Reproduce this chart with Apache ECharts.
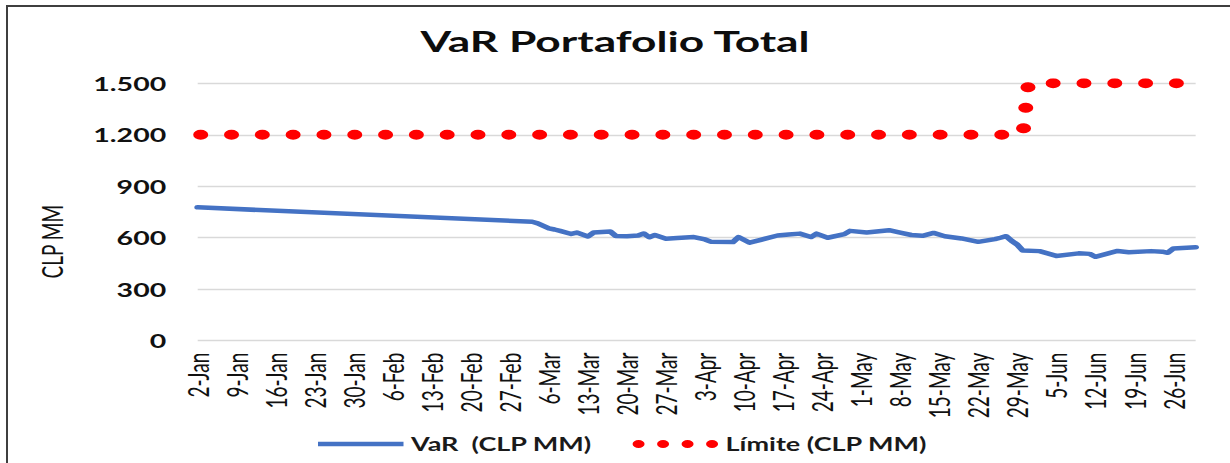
<!DOCTYPE html>
<html><head><meta charset="utf-8">
<script src="https://cdn.jsdelivr.net/npm/echarts@6/dist/echarts.min.js"></script>
<style>
html,body{margin:0;padding:0;background:#fff;overflow:hidden;width:1230px;height:463px;}
#chart{position:absolute;left:0;top:0;width:820px;height:463px;transform:scaleX(1.5);transform-origin:0 0;}
#frame{position:absolute;left:6px;top:5px;width:1240px;height:470px;border-left:2.5px solid #3f3f3f;border-top:2px solid #3f3f3f;pointer-events:none;}
</style></head><body>
<div id="chart"></div><div id="frame"></div>
<script>
const chartTitle = 'VaR Portafolio Total';
const yAxisName = 'CLP MM';
const yMin = 0, yMax = 1500, yStep = 300;
const months = ['Jan','Feb','Mar','Apr','May','Jun'];
const monthDays = [31,28,31,30,31,30];
const firstDay = 2;

const varName = 'VaR  (CLP MM)';
const varDates = ['2-Jan','3-Mar','4-Mar','6-Mar','7-Mar','8-Mar','10-Mar','11-Mar','13-Mar','14-Mar','17-Mar','18-Mar','20-Mar','22-Mar','23-Mar','24-Mar','25-Mar','27-Mar','29-Mar','1-Apr','3-Apr','4-Apr','8-Apr','9-Apr','11-Apr','13-Apr','16-Apr','18-Apr','20-Apr','22-Apr','23-Apr','25-Apr','28-Apr','29-Apr','2-May','6-May','8-May','10-May','12-May','14-May','16-May','19-May','22-May','25-May','26-May','27-May','28-May','29-May','30-May','2-Jun','5-Jun','9-Jun','11-Jun','12-Jun','16-Jun','18-Jun','22-Jun','24-Jun','25-Jun','26-Jun','30-Jun'];
const varValues = [777,693,684,655,648,640,622,630,607,630,636,610,609,613,625,603,616,594,598,604,590,577,575,604,571,588,613,619,624,604,624,600,621,640,631,644,630,616,611,628,609,596,576,592,600,609,582,560,525,522,494,509,506,489,523,516,522,519,512,537,545];

const limitName = 'Límite (CLP MM)';
const limitDates = ['2-Jan','30-May','31-May','30-Jun'];
const limitValues = [1200,1200,1500,1500];

// daily categories 2-Jan .. 30-Jun
const categories = [];
months.forEach((m, i) => {
  for (let d = (i === 0 ? firstDay : 1); d <= monthDays[i]; d++) categories.push(d + '-' + m);
});

const fmt = v => String(v).replace(/\B(?=(\d{3})+(?!\d))/g, '.');
const pairs = (xs, ys) => xs.map((x, i) => [x, ys[i]]);

const lineIcon = 'path://M0,0H57V4.5H0Z';
const dotsIcon = 'path://M0,1a1,1 0 1,0 2,0a1,1 0 1,0 -2,0Z M4.075,1a1,1 0 1,0 2,0a1,1 0 1,0 -2,0Z M8.15,1a1,1 0 1,0 2,0a1,1 0 1,0 -2,0Z M12.225,1a1,1 0 1,0 2,0a1,1 0 1,0 -2,0Z';

const chart = echarts.init(document.getElementById('chart'), null, {renderer: 'svg'});
chart.setOption({
  animation: false,
  backgroundColor: 'transparent',
  title: {
    text: chartTitle, left: 'center', top: 21,
    textStyle: {fontFamily: 'Lato', fontWeight: 'bold', fontSize: 29.5, color: '#0d0d0d'}
  },
  grid: {left: 131.8, right: 22.9, top: 83.3, bottom: 122.3, outerBoundsMode: 'none'},
  legend: {
    left: 207, top: 430, itemWidth: 57, itemHeight: 10, itemGap: 27,
    textStyle: {fontFamily: 'Lato', fontWeight: 'bold', fontSize: 18, color: '#1a1a1a'},
    data: [
      {name: varName, icon: lineIcon, itemStyle: {color: '#4472C4', borderWidth: 0}},
      {name: limitName, icon: dotsIcon, itemStyle: {color: '#FF0000', borderWidth: 0}}
    ]
  },
  graphic: [{
    type: 'text', x: 34.5, y: 241.7, rotation: Math.PI / 2,
    style: {text: yAxisName, fontFamily: 'Lato', fontSize: 19, fill: '#111',
            align: 'center', verticalAlign: 'middle', textAlign: 'center', textVerticalAlign: 'middle'}
  }],
  xAxis: {
    type: 'category', data: categories, boundaryGap: false,
    axisLine: {show: false}, axisTick: {show: false},
    axisLabel: {interval: 6, rotate: 90, margin: 12, fontFamily: 'Lato', fontSize: 19, color: '#111'}
  },
  yAxis: {
    type: 'value', min: yMin, max: yMax, interval: yStep,
    axisLine: {show: false}, axisTick: {show: false},
    axisLabel: {margin: 21, fontFamily: 'Lato', fontWeight: 'bold', fontSize: 19, color: '#111', formatter: fmt},
    splitLine: {lineStyle: {color: '#d9d9d9', width: 1.3}}
  },
  series: [
    {
      name: varName, type: 'line', data: pairs(varDates, varValues), symbol: 'none', z: 3,
      lineStyle: {color: '#4472C4', width: 4.5, join: 'round', cap: 'round'},
      itemStyle: {color: '#4472C4'}
    },
    {
      name: limitName, type: 'line', data: pairs(limitDates, limitValues), symbol: 'none', z: 2,
      lineStyle: {color: '#FF0000', width: 10, type: [0.01, 20.53], cap: 'round', dashOffset: -2.2},
      itemStyle: {color: '#FF0000'}
    }
  ]
});
</script>
</body></html>
